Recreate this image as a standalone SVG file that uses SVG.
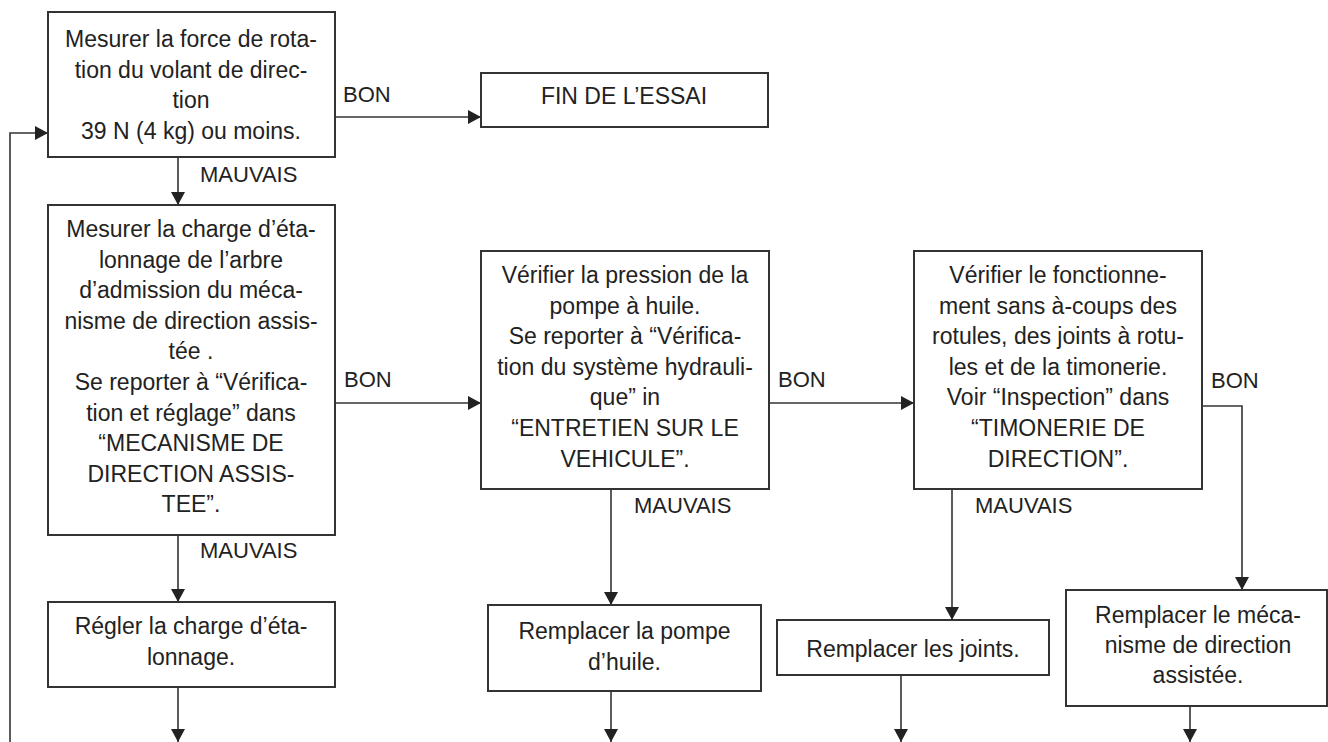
<svg xmlns="http://www.w3.org/2000/svg" width="1328" height="742" viewBox="0 0 1328 742">
<style>
.box{fill:#fff;stroke:#333;stroke-width:2}
.t{font-family:"Liberation Sans",Arial,sans-serif;font-size:23px;fill:#222;text-anchor:middle}
.l{font-family:"Liberation Sans",Arial,sans-serif;font-size:22px;fill:#222}
.c{fill:none;stroke:#333;stroke-width:1.6}
</style>
<defs>
<marker id="ah" markerUnits="userSpaceOnUse" viewBox="0 0 13 14" refX="13" refY="7" markerWidth="13" markerHeight="14" orient="auto">
<path d="M0,0 L13,7 L0,14 z" fill="#222"/>
</marker>
</defs>
<rect width="1328" height="742" fill="#fff"/>
<g id="connectors">
<path class="c" d="M10,742 V133 H48" marker-end="url(#ah)"/>
<path class="c" d="M335,117 H481" marker-end="url(#ah)"/>
<path class="c" d="M178,157 V205" marker-end="url(#ah)"/>
<path class="c" d="M335,403 H481" marker-end="url(#ah)"/>
<path class="c" d="M178,535 V602" marker-end="url(#ah)"/>
<path class="c" d="M178,687 V742" marker-end="url(#ah)"/>
<path class="c" d="M769,403 H914" marker-end="url(#ah)"/>
<path class="c" d="M611,489 V605" marker-end="url(#ah)"/>
<path class="c" d="M611,691 V742" marker-end="url(#ah)"/>
<path class="c" d="M1202,406 H1242 V590" marker-end="url(#ah)"/>
<path class="c" d="M952,489 V620" marker-end="url(#ah)"/>
<path class="c" d="M901,675 V742" marker-end="url(#ah)"/>
<path class="c" d="M1190,706 V742" marker-end="url(#ah)"/>
<text class="l" x="343" y="102">BON</text>
<text class="l" x="200" y="182">MAUVAIS</text>
<text class="l" x="344" y="387">BON</text>
<text class="l" x="200" y="558">MAUVAIS</text>
<text class="l" x="778" y="387">BON</text>
<text class="l" x="1211" y="388">BON</text>
<text class="l" x="634" y="513">MAUVAIS</text>
<text class="l" x="975" y="513">MAUVAIS</text>
</g>
<g id="n1">
<rect class="box" x="48" y="12" width="287" height="145"/>
<text class="t" x="191" y="47">Mesurer la force de rota-</text>
<text class="t" x="191" y="77.6">tion du volant de direc-</text>
<text class="t" x="191" y="108.2">tion</text>
<text class="t" x="191" y="138.8">39 N (4 kg) ou moins.</text>
</g>
<g id="n2">
<rect class="box" x="481" y="73" width="287" height="54"/>
<text class="t" x="624" y="104">FIN DE L’ESSAI</text>
</g>
<g id="n3">
<rect class="box" x="48" y="205" width="287" height="330"/>
<text class="t" x="191" y="237">Mesurer la charge d’éta-</text>
<text class="t" x="191" y="267.6">lonnage de l’arbre</text>
<text class="t" x="191" y="298.2">d’admission du méca-</text>
<text class="t" x="191" y="328.8">nisme de direction assis-</text>
<text class="t" x="191" y="359.4">tée .</text>
<text class="t" x="191" y="390">Se reporter à “Vérifica-</text>
<text class="t" x="191" y="420.6">tion et réglage” dans</text>
<text class="t" x="191" y="451.2">“MECANISME DE</text>
<text class="t" x="191" y="481.8">DIRECTION ASSIS-</text>
<text class="t" x="191" y="512.4">TEE”.</text>
</g>
<g id="n4">
<rect class="box" x="481" y="251" width="288" height="238"/>
<text class="t" x="625" y="283">Vérifier la pression de la</text>
<text class="t" x="625" y="313.6">pompe à huile.</text>
<text class="t" x="625" y="344.2">Se reporter à “Vérifica-</text>
<text class="t" x="625" y="374.8">tion du système hydrauli-</text>
<text class="t" x="625" y="405.4">que” in</text>
<text class="t" x="625" y="436">“ENTRETIEN SUR LE</text>
<text class="t" x="625" y="466.6">VEHICULE”.</text>
</g>
<g id="n5">
<rect class="box" x="914" y="251" width="288" height="238"/>
<text class="t" x="1058" y="283">Vérifier le fonctionne-</text>
<text class="t" x="1058" y="313.6">ment sans à-coups des</text>
<text class="t" x="1058" y="344.2">rotules, des joints à rotu-</text>
<text class="t" x="1058" y="374.8">les et de la timonerie.</text>
<text class="t" x="1058" y="405.4">Voir “Inspection” dans</text>
<text class="t" x="1058" y="436">“TIMONERIE DE</text>
<text class="t" x="1058" y="466.6">DIRECTION”.</text>
</g>
<g id="n6">
<rect class="box" x="48" y="602" width="287" height="85"/>
<text class="t" x="191" y="634">Régler la charge d’éta-</text>
<text class="t" x="191" y="664.6">lonnage.</text>
</g>
<g id="n7">
<rect class="box" x="488" y="605" width="273" height="86"/>
<text class="t" x="624.5" y="639">Remplacer la pompe</text>
<text class="t" x="624.5" y="669.6">d’huile.</text>
</g>
<g id="n8">
<rect class="box" x="777" y="620" width="272" height="55"/>
<text class="t" x="913" y="657">Remplacer les joints.</text>
</g>
<g id="n9">
<rect class="box" x="1066" y="590" width="261" height="116"/>
<text class="t" x="1198" y="623">Remplacer le méca-</text>
<text class="t" x="1198" y="653">nisme de direction</text>
<text class="t" x="1198" y="683">assistée.</text>
</g>
</svg>
